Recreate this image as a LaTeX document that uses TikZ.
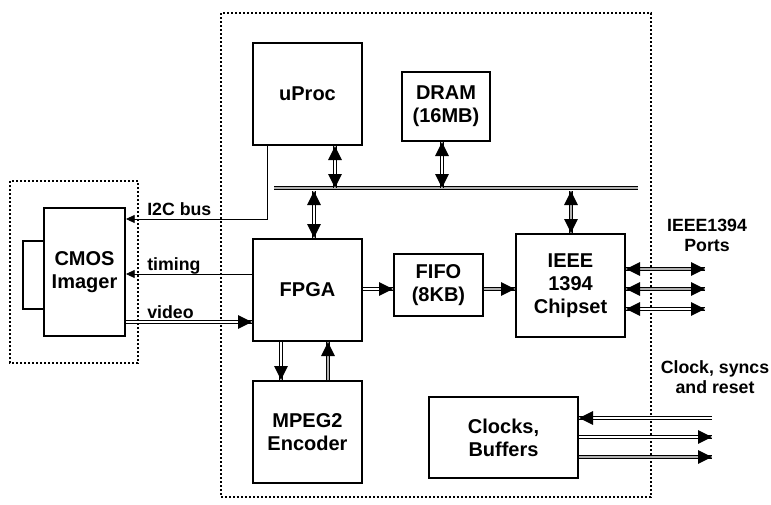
\documentclass[tikz,border=0pt]{standalone}
\usepackage{fontspec}
\setmainfont{Liberation Sans}
\usetikzlibrary{arrows.meta,decorations.markings}
\begin{document}
\begin{tikzpicture}[x=0.75pt,y=-0.75pt,
  box/.style={draw, line width=1.5pt, inner sep=0pt, align=center, font=\bfseries\fontsize{15}{17.25}\selectfont},
  sz/.style 2 args={minimum width=#1*0.75pt, minimum height=#2*0.75pt},
  lbl/.style={font=\bfseries\fontsize{13.3}{15}\selectfont, inner sep=0pt, align=center},
  dotbox/.style={draw, line width=1.6pt, dash pattern=on 1.5pt off 1.5pt},
  dbl/.style={draw, line width=0.6pt, double=white, double distance=1.5pt},
  gbl/.style={draw, line width=0.6pt, double=gray!60, double distance=1.5pt},
  fwdarr/.style={postaction={decorate, decoration={markings,
      mark=at position 1 with {\fill[black] (0pt,0pt) -- (-10.5pt,5.2pt) -- (-10.5pt,-5.2pt) -- cycle;}}}},
  biarr/.style={postaction={decorate, decoration={markings,
      mark=at position 0 with {\fill[black] (0pt,0pt) -- (10.5pt,5.2pt) -- (10.5pt,-5.2pt) -- cycle;},
      mark=at position 1 with {\fill[black] (0pt,0pt) -- (-10.5pt,5.2pt) -- (-10.5pt,-5.2pt) -- cycle;}}}},
  thinarr/.style={draw, line width=0.6pt, -{Triangle[length=6.5pt,width=6pt]}}]
\useasboundingbox (0,0) rectangle (771,504);
% dotted frames
\draw[dotbox] (221,13) rectangle (651,497);
\draw[dotbox] (10,181) rectangle (138,363);
% boxes
\node[box, sz={109}{102}] (uproc) at (307.5,94) {uProc};
\node[box, sz={88}{69}] (dram) at (446,106.5) {DRAM\\(16MB)};
\node[box, sz={21}{68}] (lens) at (33.5,275) {};
\node[box, sz={81}{128}] (cmos) at (84.5,272) {CMOS\\Imager};
\node[box, sz={109}{102}] (fpga) at (307.5,290) {FPGA};
\node[box, sz={89}{62}] (fifo) at (438.5,285) {FIFO\\(8KB)};
\node[box, sz={109}{103}] (ieee) at (570.5,285.5) {IEEE\\1394\\Chipset};
\node[box, sz={109}{102}] (mpeg) at (307.5,432) {MPEG2\\Encoder};
\node[box, sz={149}{81}] (clk) at (503.5,437.5) {Clocks,\\Buffers};
% labels
\node[lbl, anchor=base west] (li2c) at (147,215) {I2C bus};
\node[lbl, anchor=base west] (ltim) at (147,270) {timing};
\node[lbl, anchor=base west] (lvid) at (147,318) {video};
\node[lbl] (lports) at (707,235) {IEEE1394\\Ports};
\node[lbl] (lclk) at (715,377) {Clock, syncs\\and reset};
% coordinates
\coordinate (busL) at (274,188);
\coordinate (busR) at (638,188);
\coordinate (b1) at (335,188);
\coordinate (b2) at (442,188);
\coordinate (b3) at (314,191);
\coordinate (b4) at (571,191);
\coordinate (i2c) at (267,219);
\coordinate (tim) at (0,274);
\coordinate (vid) at (0,322);
\coordinate (ff) at (0,289);
\coordinate (md) at (281,0);
\coordinate (mu) at (328,0);
\coordinate (p1) at (705,269);
\coordinate (p2) at (705,289);
\coordinate (p3) at (705,309);
\coordinate (c1) at (712,418);
\coordinate (c2) at (712,437);
\coordinate (c3) at (712,457);
% bus
\draw[gbl] (busL) -- (busR);
\draw[dbl, biarr] (uproc.south -| b1) -- (b1);
\draw[dbl, biarr] (dram.south -| b2) -- (b2);
\draw[dbl, biarr] (b3) -- (fpga.north -| b3);
\draw[gbl, biarr] (b4) -- (ieee.north -| b4);
% imager links
\draw[thinarr] (uproc.south -| i2c) |- (cmos.east |- i2c);
\draw[thinarr] (fpga.west |- tim) -- (cmos.east |- tim);
\draw[dbl, fwdarr] (cmos.east |- vid) -- (fpga.west |- vid);
% data path
\draw[dbl, fwdarr] (fpga.east |- ff) -- (fifo.west |- ff);
\draw[gbl, fwdarr] (fifo.east |- ff) -- (ieee.west |- ff);
\draw[dbl, fwdarr] (fpga.south -| md) -- (mpeg.north -| md);
\draw[gbl, fwdarr] (mpeg.north -| mu) -- (fpga.south -| mu);
% ports
\draw[gbl, biarr] (ieee.east |- p1) -- (p1);
\draw[gbl, biarr] (ieee.east |- p2) -- (p2);
\draw[dbl, biarr] (ieee.east |- p3) -- (p3);
% clocks
\draw[dbl, fwdarr] (c1) -- (clk.east |- c1);
\draw[dbl, fwdarr] (clk.east |- c2) -- (c2);
\draw[gbl, fwdarr] (clk.east |- c3) -- (c3);
\end{tikzpicture}
\end{document}
